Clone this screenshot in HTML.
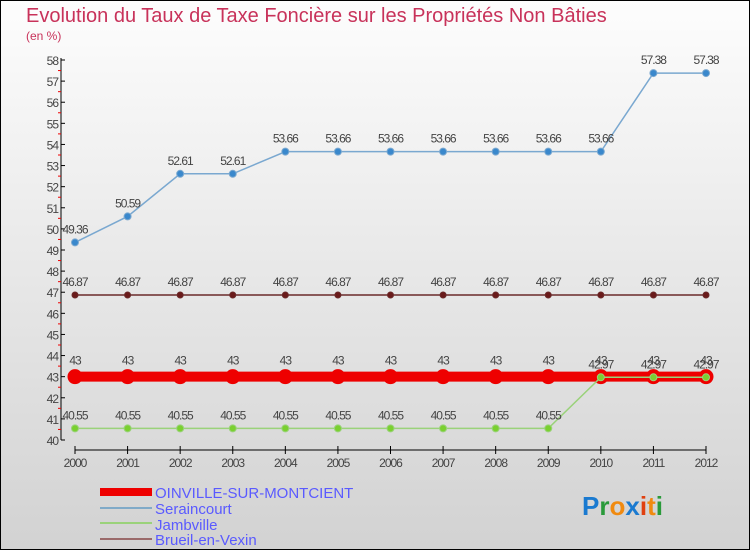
<!DOCTYPE html>
<html><head><meta charset="utf-8"><style>
body{margin:0;width:750px;height:550px;overflow:hidden;font-family:"Liberation Sans",sans-serif}
svg{display:block}
</style></head><body>
<svg width="750" height="550">
<defs><linearGradient id="bg" x1="0" y1="0" x2="0" y2="1"><stop offset="0" stop-color="#fdfdfd"/><stop offset="1" stop-color="#d2d2d2"/></linearGradient></defs>
<rect x="0.5" y="0.5" width="749" height="549" fill="url(#bg)" stroke="#000"/>
<text x="26" y="22" font-size="20" fill="#c8325a">Evolution du Taux de Taxe Foncière sur les Propriétés Non Bâties</text>
<text x="26" y="40" font-size="12" fill="#c8325a">(en %)</text>
<g id="axes"></g><g id="series"></g>
<g>
<rect x="100" y="488" width="52" height="8" fill="#e00"/>
<text x="155" y="498" font-size="15" fill="#5a5aff">OINVILLE-SUR-MONTCIENT</text>
<rect x="100" y="507" width="52" height="2" fill="#80aac8"/>
<text x="155" y="514" font-size="15" fill="#5a5aff">Seraincourt</text>
<rect x="100" y="522" width="52" height="2" fill="#9ad27a"/>
<text x="155" y="530" font-size="15" fill="#5a5aff">Jambville</text>
<rect x="100" y="538" width="52" height="2" fill="#9a6a6a"/>
<text x="155" y="545" font-size="15" fill="#5a5aff">Brueil-en-Vexin</text>
</g>
<text x="582" y="515" font-size="26" font-weight="bold"><tspan fill="#1a7ad0">P</tspan><tspan fill="#2a9a3a">r</tspan><tspan fill="#f08a10">o</tspan><tspan fill="#1a7ad0">x</tspan><tspan fill="#e04010">i</tspan><tspan fill="#f08a10">t</tspan><tspan fill="#2a9a3a">i</tspan></text>
</svg>
<script>
const years=[2000,2001,2002,2003,2004,2005,2006,2007,2008,2009,2010,2011,2012];
const yTicks=[40,41,42,43,44,45,46,47,48,49,50,51,52,53,54,55,56,57,58];
const oinville=[43,43,43,43,43,43,43,43,43,43,43,43,43];
const seraincourt=[49.36,50.59,52.61,52.61,53.66,53.66,53.66,53.66,53.66,53.66,53.66,57.38,57.38];
const jambville=[40.55,40.55,40.55,40.55,40.55,40.55,40.55,40.55,40.55,40.55,42.97,42.97,42.97];
const brueil=[46.87,46.87,46.87,46.87,46.87,46.87,46.87,46.87,46.87,46.87,46.87,46.87,46.87];
const NS="http://www.w3.org/2000/svg";
const xs=i=>75+i*(706-75)/(years.length-1);
const ys=v=>440-(v-40)*(380/18);
function mk(tag,attrs,parent,text){const e=document.createElementNS(NS,tag);for(const k in attrs)e.setAttribute(k,attrs[k]);if(text!==undefined)e.textContent=text;parent.appendChild(e);return e;}
const ax=document.getElementById('axes');
let e=mk('line',{x1:61,y1:58,x2:61,y2:440,stroke:'#000'},ax);


e=mk('line',{x1:75,y1:440+10,x2:706,y2:450,stroke:'#000'},ax);


yTicks.forEach(t=>{const y=ys(t);mk('line',{x1:61,y1:y,x2:65,y2:y,stroke:'#000'},ax);
if(t<58)mk('line',{x1:58,y1:ys(t+0.5),x2:61,y2:ys(t+0.5),stroke:'#e00'},ax);
e=mk('text',{x:58,y:y+5,'font-size':12,fill:'#444','text-anchor':'end','letter-spacing':'-1'},ax,t);

});
years.forEach((yr,i)=>{const x=xs(i);mk('line',{x1:x,y1:446,x2:x,y2:454,stroke:'#000'},ax);
e=mk('text',{x:x,y:467,'font-size':12,fill:'#444','text-anchor':'middle','letter-spacing':'-1'},ax,yr);

});
const sg=document.getElementById('series');
function draw(name,vals,color,w,r,fill,lblDy){const g=mk('g',{},sg);


mk('polyline',{points:vals.map((v,i)=>xs(i)+','+ys(v)).join(' '),fill:'none',stroke:color,'stroke-width':w},g);
vals.forEach((v,i)=>{const c=mk('circle',{cx:xs(i),cy:ys(v),r:r,fill:fill,stroke:color,'stroke-width':1},g);


mk('text',{x:xs(i),y:ys(v)+lblDy,'font-size':12,fill:'#444','text-anchor':'middle','letter-spacing':'-1'},g,v);});}
draw('brueil',brueil,'#6a2a2a',1.5,3,'#6a1a1a',-9);
draw('seraincourt',seraincourt,'#7aa8d0',1.5,3.5,'#3a88cc',-9);
draw('oinville',oinville,'#e00',10,7,'#e00',-12);
draw('jambville',jambville,'#9ad27a',1.5,3.5,'#7ad030',-9);
</script>
</body></html>
